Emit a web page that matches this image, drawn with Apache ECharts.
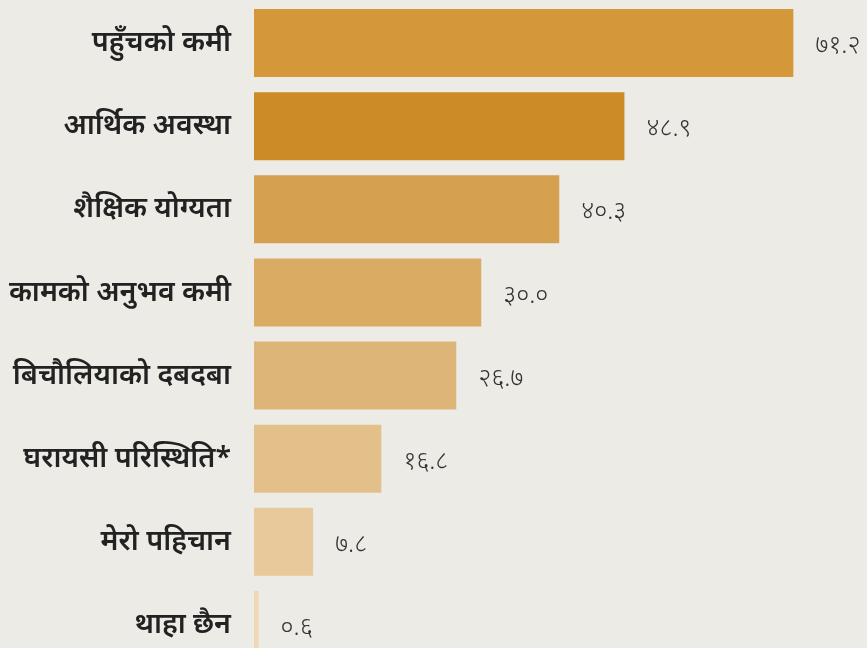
<!DOCTYPE html>
<html><head><meta charset="utf-8">
<script src="https://cdn.jsdelivr.net/npm/echarts@6/dist/echarts.min.js"></script>
<style>html,body{margin:0;padding:0;background:#EDEBE6;overflow:hidden;}#c{width:867px;height:667px;}</style>
</head><body><div id="c"></div>
<script>
const categories = ['पहुँचको कमी','आर्थिक अवस्था','शैक्षिक योग्यता','कामको अनुभव कमी','बिचौलियाको दबदबा','घरायसी परिस्थिति*','मेरो पहिचान','थाहा छैन'];
const values = [71.2, 48.9, 40.3, 30.0, 26.7, 16.8, 7.8, 0.6];
const barColors = ['#D4983A','#CB8B27','#D5A150','#DAAB63','#DEB578','#E3BF89','#E8C99B','#EED8B2'];
const devDigits = '०१२३४५६७८९';
function toDev(v){ return v.toFixed(1).replace(/[0-9]/g, d => devDigits[+d]); }
const chart = echarts.init(document.getElementById('c'));
chart.setOption({
  backgroundColor: '#EDEBE6',
  animation: false,
  grid: { left: 254, top: 1.5, right: 7, bottom: 0.5, containLabel: false, outerBoundsMode: 'none' },
  xAxis: { type: 'value', min: 0, max: 80, show: false },
  yAxis: {
    type: 'category', data: categories, inverse: true,
    axisLine: { show: false }, axisTick: { show: false },
    axisLabel: { margin: 23, fontSize: 28.5, fontWeight: 600, color: '#222', fontFamily: '"Noto Sans", sans-serif', padding: [12, 0, 0, 0] }
  },
  series: [{
    type: 'bar', barWidth: 68,
    data: values.map((v, i) => ({ value: v, itemStyle: { color: barColors[i] } })),
    label: { show: true, position: 'right', distance: 22, offset: [0, 3], fontSize: 25, color: '#333', fontFamily: '"Noto Sans", sans-serif', fontWeight: 300,
      formatter: p => toDev(p.value) }
  }]
});
</script></body></html>
